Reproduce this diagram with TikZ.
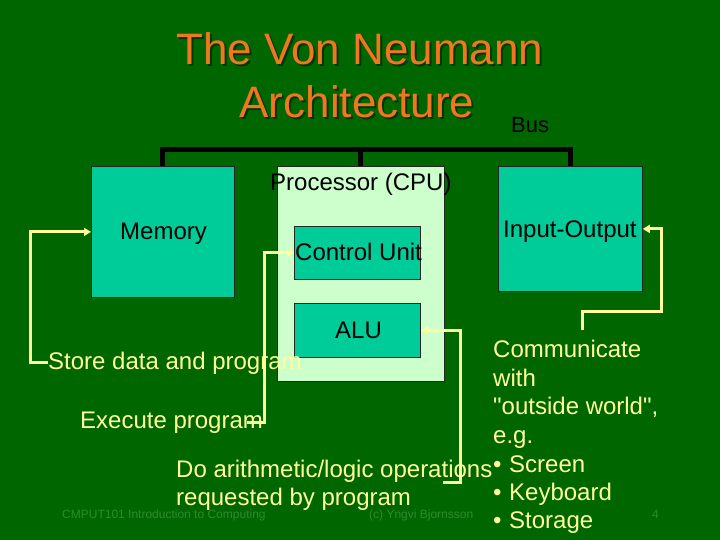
\documentclass[tikz,border=0pt]{standalone}
\usepackage{fontspec}
\setmainfont{Liberation Sans}[Ligatures=TeXOff]
\usetikzlibrary{arrows.meta,calc}
\definecolor{bg}{RGB}{0,102,0}
\definecolor{boxteal}{RGB}{0,204,153}
\definecolor{cpufill}{RGB}{204,255,204}
\definecolor{yel}{RGB}{255,255,153}
\definecolor{titleor}{RGB}{242,118,32}
\definecolor{foot}{RGB}{46,140,46}
\begin{document}
\begin{tikzpicture}[x=1pt,y=-1pt,
  box/.style={draw=black!85, line width=0.8pt, fill=boxteal, inner sep=0pt, anchor=north west},
  lbl/.style={anchor=base west, inner sep=0pt, font=\fontsize{24}{28.8}\selectfont},
  yl/.style={lbl, text=yel},
  bk/.style={lbl, text=black},
  ttl/.style={anchor=base, inner sep=0pt, font=\fontsize{44}{52}\selectfont, text=titleor},
  ttlshadow/.style={ttl, text=black, opacity=0.45},
  foottxt/.style={anchor=base west, inner sep=0pt, font=\fontsize{12}{14}\selectfont, text=foot},
  bus/.style={draw=black, line width=5pt, line join=miter},
  arr/.style={draw=yel, line width=3pt, line join=miter, -{Triangle[length=7pt,width=8pt]}}
]
\fill[bg] (0,0) rectangle (720,540);
\useasboundingbox (0,0) rectangle (720,540);

% title
\node[ttlshadow] (t1s) at (362,67) {The Von Neumann};
\node[ttlshadow] (t2s) at (359,120) {Architecture};
\node[ttl] (t1) at (360,65) {The Von Neumann};
\node[ttl] (t2) at (357,118) {Architecture};
\node[bk, font=\fontsize{22}{26}\selectfont] (bust) at (511,133) {Bus};

% footer
\node[foottxt] (f1) at (62,518) {CMPUT101 Introduction to Computing};
\node[foottxt] (f2) at (369,518) {(c) Yngvi Bjornsson};
\node[foottxt] (f3) at (652,518) {4};

% boxes
\node[box, minimum width=143pt, minimum height=131pt] (mem) at (91,166) {};
\node[box, fill=cpufill, minimum width=167pt, minimum height=215pt] (cpu) at (277,166) {};
\node[box, minimum width=126pt, minimum height=53pt] (cu) at (294,226) {};
\node[box, minimum width=126pt, minimum height=54pt] (alu) at (294,303) {};
\node[box, minimum width=144pt, minimum height=125pt] (io) at (498,166) {};

% bus
\coordinate (busy) at (0,150);
\draw[bus] (mem.north) -- (mem.north |- busy) -- (io.north |- busy) -- (io.north);
\draw[bus] (cpu.north |- busy) -- (cpu.north);

% box labels
\node[bk] (memt) at (120,240) {Memory};
\node[bk] (cput) at (270,191) {Processor (CPU)};
\node[bk] (cut) at (295,260) {Control Unit};
\node[bk] (alut) at (335,338) {ALU};
\node[bk] (iot) at (503,237) {Input-Output};

% yellow texts
\node[yl] (store) at (48,369) {Store data and program};
\node[yl] (exec) at (80,428) {Execute program};
\node[yl] (ops1) at (176,477) {Do arithmetic/logic operations};
\node[yl] (ops2) at (176,505) {requested by program};

\node[yl] (comm1) at (493,357) {Communicate};
\node[yl] (comm2) at (493,386) {with};
\node[yl] (comm3) at (493,414) {"outside world",};
\node[yl] (comm4) at (493,443) {e.g.};
\node[yl] (b1) at (493,472) {•};
\node[yl] (b2) at (493,500) {•};
\node[yl] (b3) at (493,528) {•};
\node[yl] (s1) at (509,472) {Screen};
\node[yl] (s2) at (509,500) {Keyboard};
\node[yl] (s3) at (509,528) {Storage};

% arrows
\coordinate (aluStart) at (443,482);
\coordinate (ioStart) at (582,330);
\draw[arr] (store.west) -- ++(-18,0) |- (mem.west);
\draw[arr] ([xshift=-16pt]exec.east) -- ++(17,0) |- (cu.west);
\draw[arr] (aluStart) -- ++(17,0) |- (alu.east);
\draw[arr] (ioStart) -- ++(0,-19) -- ++(79,0) |- (io.east);
\end{tikzpicture}
\end{document}
